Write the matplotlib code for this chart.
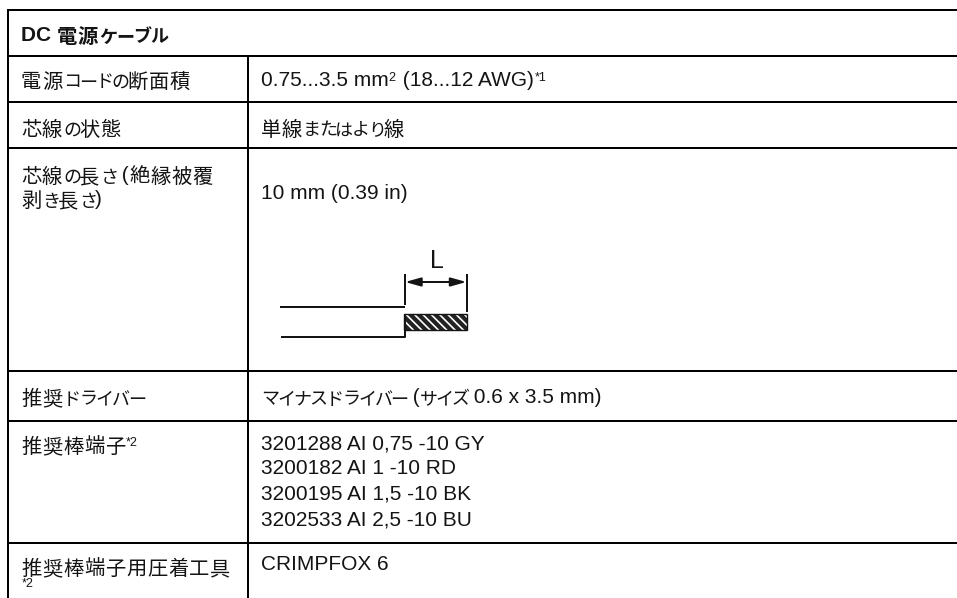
import matplotlib
matplotlib.use("Agg")
import matplotlib.pyplot as plt
from matplotlib.patches import Rectangle

plt.rcParams['font.family'] = ['Liberation Sans', 'Noto Sans CJK JP']
plt.rcParams['hatch.linewidth'] = 1.2

title = "DC 電源ケーブル"
label_lines = [
    (21, 86, "電源コードの断面積"),
    (21, 134, "芯線の状態"),
    (21, 181, "芯線の長さ (絶縁被覆"),
    (21, 205, "剥き長さ)"),
    (21, 403, "推奨ドライバー"),
    (21, 451, "推奨棒端子^*2"),
    (21, 573, "推奨棒端子用圧着工具"),
    (22, 592, "^*2"),
]
value_lines = [
    (261, 86, "0.75...3.5 mm^2 (18...12 AWG)^*1"),
    (261, 134, "単線またはより線"),
    (261, 199, "10 mm (0.39 in)"),
    (261, 403, "マイナスドライバー (サイズ 0.6 x 3.5 mm)"),
    (261, 449, "3201288 AI 0,75 -10 GY"),
    (261, 474, "3200182 AI 1 -10 RD"),
    (261, 499, "3200195 AI 1,5 -10 BK"),
    (261, 525, "3202533 AI 2,5 -10 BU"),
    (261, 570, "CRIMPFOX 6"),
]
h_lines = [10, 56, 102, 148, 371, 421, 543]
border_x = 8
column_x = 248
header_bottom = 56

fig = plt.figure(figsize=(9.57, 5.98), dpi=100, facecolor='white')
ax = fig.add_axes([0, 0, 1, 1])
ax.set_xlim(0, 957)
ax.set_ylim(598, 0)
ax.axis('off')
r = fig.canvas.get_renderer()
LW = 2 * 72 / 100
INK = '#141414'
LATIN = 15.0
SUP = 9.0
KANJI = 14.6
KANA = 13.0
KANJI_ADV = 21.0
KANA_ADV = 16.2


def is_kana(c):
    return '\u3040' <= c <= '\u30ff'


def is_kanji(c):
    return '\u4e00' <= c <= '\u9fff'


def text_w(s, size, weight):
    t = ax.text(0, 0, s.replace(' ', '\u00a0'), fontsize=size, fontweight=weight)
    w = t.get_window_extent(r).width
    t.remove()
    return w


def line(x, y, s, weight='normal', kana_adv=KANA_ADV):
    """Lay out mixed text: latin runs together, CJK cell by cell."""
    for i, part in enumerate(s.split('^')):
        if i > 0:
            n = part.find(' ') if ' ' in part else len(part)
            ax.text(x, y - 5, part[:n], fontsize=SUP, color=INK, va='baseline')
            x += text_w(part[:n], SUP, 'normal') + 1
            part = part[n:]
        run = ''
        for c in part + '\0':
            if is_kana(c) or is_kanji(c) or c == '\0':
                if run:
                    ax.text(x, y, run, fontsize=LATIN, color=INK, va='baseline', fontweight=weight)
                    x += text_w(run, LATIN, weight)
                    run = ''
                if c == '\0':
                    break
                if is_kanji(c):
                    ax.text(x, y + 2, c, fontsize=KANJI, color=INK, va='baseline', fontweight=weight)
                    x += KANJI_ADV
                else:
                    ax.text(x, y + 1.5, c, fontsize=KANA, color=INK, va='baseline', fontweight=weight)
                    x += kana_adv
            else:
                run += c
    return x


for y in h_lines:
    ax.plot([border_x, 957], [y, y], color='black', lw=LW, solid_capstyle='butt')
ax.plot([border_x, border_x], [9, 598], color='black', lw=LW, solid_capstyle='butt')
ax.plot([column_x, column_x], [header_bottom, 598], color='black', lw=LW, solid_capstyle='butt')

line(21, 41, title, weight='bold', kana_adv=17)
for x, y, s in label_lines + value_lines:
    line(x, y, s)

# stripped-wire diagram
d = 2 * 72 / 100
ax.plot([280, 405], [307, 307], color=INK, lw=d, solid_capstyle='butt')
ax.plot([281, 404.5, 404.5], [337, 337, 314], color=INK, lw=d, solid_capstyle='butt')
ax.plot([405, 405], [274, 305], color=INK, lw=d, solid_capstyle='butt')
ax.plot([466.5, 466.5], [274, 312], color=INK, lw=d, solid_capstyle='butt')
ax.add_patch(Rectangle((404, 314), 62.5, 16, facecolor='#222222', edgecolor='white',
                       hatch='\\\\\\\\', lw=0))
ax.add_patch(Rectangle((404, 314), 62.5, 16, facecolor='none', edgecolor=INK, lw=1.0))
for end in (405, 466.5):
    ax.annotate('', xy=(end, 282), xytext=(435, 282),
                arrowprops=dict(arrowstyle='-|>,head_length=0.72,head_width=0.2', color=INK, lw=d,
                                shrinkA=0, shrinkB=0, mutation_scale=13))
ax.text(437, 268, "L", fontsize=18, ha='center', va='baseline', color=INK)

fig.savefig('out.png', dpi=100, facecolor='white')
